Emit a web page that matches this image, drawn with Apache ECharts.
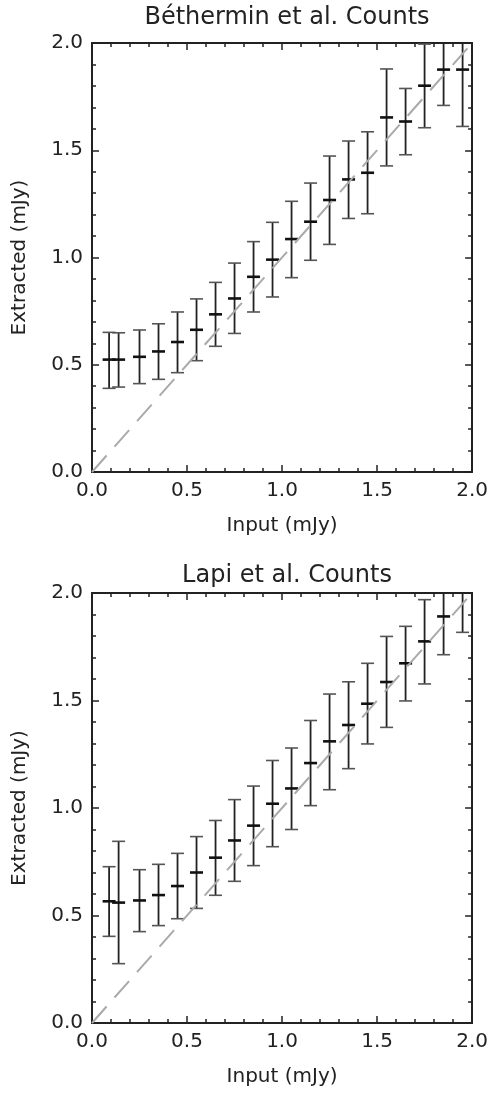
<!DOCTYPE html>
<html>
<head>
<meta charset="utf-8">
<script src="https://cdn.jsdelivr.net/npm/echarts@6/dist/echarts.min.js"></script>
<style>
  html, body { margin: 0; padding: 0; background: #fff; }
  #main { width: 491px; height: 1096px; }
</style>
</head>
<body>
<div id="main"></div>
<script>
// input flux bins (mJy)
var xs = [0.09, 0.14, 0.25, 0.35, 0.45, 0.55, 0.65, 0.75, 0.85, 0.95, 1.05, 1.15, 1.25, 1.35, 1.45, 1.55, 1.65, 1.75, 1.85, 1.95];

// Béthermin et al. counts
var bethMean = [0.524, 0.524, 0.537, 0.562, 0.606, 0.663, 0.735, 0.809, 0.910, 0.990, 1.086, 1.167, 1.268, 1.364, 1.395, 1.653, 1.634, 1.801, 1.876, 1.876];
var bethLow  = [0.390, 0.396, 0.412, 0.432, 0.463, 0.519, 0.586, 0.646, 0.746, 0.816, 0.906, 0.987, 1.061, 1.182, 1.204, 1.427, 1.479, 1.605, 1.709, 1.611];
var bethHigh = [0.651, 0.649, 0.662, 0.691, 0.746, 0.807, 0.884, 0.974, 1.074, 1.164, 1.262, 1.347, 1.473, 1.543, 1.586, 1.879, 1.788, 1.995, 2.040, 2.140];

// Lapi et al. counts
var lapiMean = [0.566, 0.560, 0.570, 0.595, 0.637, 0.700, 0.769, 0.849, 0.918, 1.020, 1.091, 1.209, 1.310, 1.386, 1.485, 1.586, 1.673, 1.775, 1.891, 2.010];
var lapiLow  = [0.403, 0.276, 0.425, 0.453, 0.485, 0.533, 0.594, 0.659, 0.732, 0.820, 0.900, 1.011, 1.085, 1.183, 1.298, 1.375, 1.498, 1.577, 1.713, 1.817];
var lapiHigh = [0.727, 0.845, 0.713, 0.738, 0.789, 0.867, 0.942, 1.039, 1.102, 1.221, 1.279, 1.407, 1.530, 1.587, 1.673, 1.798, 1.845, 1.969, 2.070, 2.200];

var titles = ['Béthermin et al. Counts', 'Lapi et al. Counts'];
var tickLabels = ['0.0', '0.5', '1.0', '1.5', '2.0'];

var FONT = 'DejaVu Sans';
var INK = '#222';

var chart = echarts.init(document.getElementById('main'));

function rows(mean, low, high) {
    return xs.map(function (x, i) { return [x, mean[i], low[i], high[i]]; });
}

function renderErr(params, api) {
    var cs = params.coordSys;
    var x = api.value(0);
    var pm = api.coord([x, api.value(1)]);
    var pl = api.coord([x, api.value(2)]);
    var ph = api.coord([x, api.value(3)]);
    var top = cs.y, bot = cs.y + cs.height;
    var half = 6.5;
    var children = [];
    var y1 = Math.max(ph[1], top), y2 = Math.min(pl[1], bot);
    children.push({ type: 'line', shape: { x1: pm[0], y1: y1, x2: pm[0], y2: y2 },
        style: { stroke: INK, lineWidth: 1.8 } });
    [pl, ph].forEach(function (p) {
        if (p[1] >= top - 0.5 && p[1] <= bot) {
            children.push({ type: 'line', shape: { x1: p[0] - half, y1: p[1], x2: p[0] + half, y2: p[1] },
                style: { stroke: '#555', lineWidth: 1.6 } });
        }
    });
    if (pm[1] >= top - 1 && pm[1] <= bot) {
        children.push({ type: 'line', shape: { x1: pm[0] - half, y1: pm[1], x2: pm[0] + half, y2: pm[1] },
            style: { stroke: '#111', lineWidth: 2.6 } });
    }
    return { type: 'group', children: children };
}

function valAxis(gi, pos, withLabels, name) {
    var ax = {
        type: 'value', gridIndex: gi, position: pos,
        min: 0, max: 2, interval: 0.5,
        axisLine: { show: true, onZero: false, lineStyle: { color: INK, width: 2 } },
        axisTick: { show: true, inside: true, length: 7, lineStyle: { color: INK, width: 1.5 } },
        minorTick: { show: true, splitNumber: 5, length: 4, lineStyle: { color: INK, width: 1.5 } },
        splitLine: { show: false },
        axisLabel: {
            show: withLabels, fontFamily: FONT, fontSize: 20, color: INK, margin: 9,
            formatter: function (v) { return tickLabels[Math.round(v / 0.5)]; }
        }
    };
    if (name) {
        ax.name = name;
        ax.nameLocation = 'middle';
        ax.nameTextStyle = { fontFamily: FONT, fontSize: 20, color: INK };
    }
    return ax;
}

var grids = [
    { left: 92, top: 43, width: 381, height: 429 },
    { left: 92, top: 593, width: 381, height: 430 }
];

var xAxes = [], yAxes = [], series = [];
[0, 1].forEach(function (gi) {
    var xa = valAxis(gi, 'bottom', true, 'Input (mJy)');
    xa.nameGap = 44;
    xAxes.push(xa);
    xAxes.push(valAxis(gi, 'top', false));
    var ya = valAxis(gi, 'left', true, 'Extracted (mJy)');
    ya.nameGap = 62;
    yAxes.push(ya);
    yAxes.push(valAxis(gi, 'right', false));
});

var sets = [rows(bethMean, bethLow, bethHigh), rows(lapiMean, lapiLow, lapiHigh)];
[0, 1].forEach(function (gi) {
    series.push({
        type: 'line', xAxisIndex: gi * 2, yAxisIndex: gi * 2,
        data: [[0, 0], [2, 2]], symbol: 'none', silent: true,
        lineStyle: { color: '#aaa', width: 2, type: [22, 12] }
    });
    series.push({
        type: 'custom', xAxisIndex: gi * 2, yAxisIndex: gi * 2,
        data: sets[gi], renderItem: renderErr, silent: true
    });
});

var option = {
    animation: false,
    backgroundColor: '#fff',
    title: [
        { text: titles[0], left: 282, top: 1, textAlign: 'center',
          textStyle: { fontFamily: FONT, fontSize: 24, fontWeight: 'normal', color: INK } },
        { text: titles[1], left: 282, top: 559, textAlign: 'center',
          textStyle: { fontFamily: FONT, fontSize: 24, fontWeight: 'normal', color: INK } }
    ],
    grid: grids,
    xAxis: xAxes,
    yAxis: yAxes,
    series: series
};

chart.setOption(option);
</script>
</body>
</html>
